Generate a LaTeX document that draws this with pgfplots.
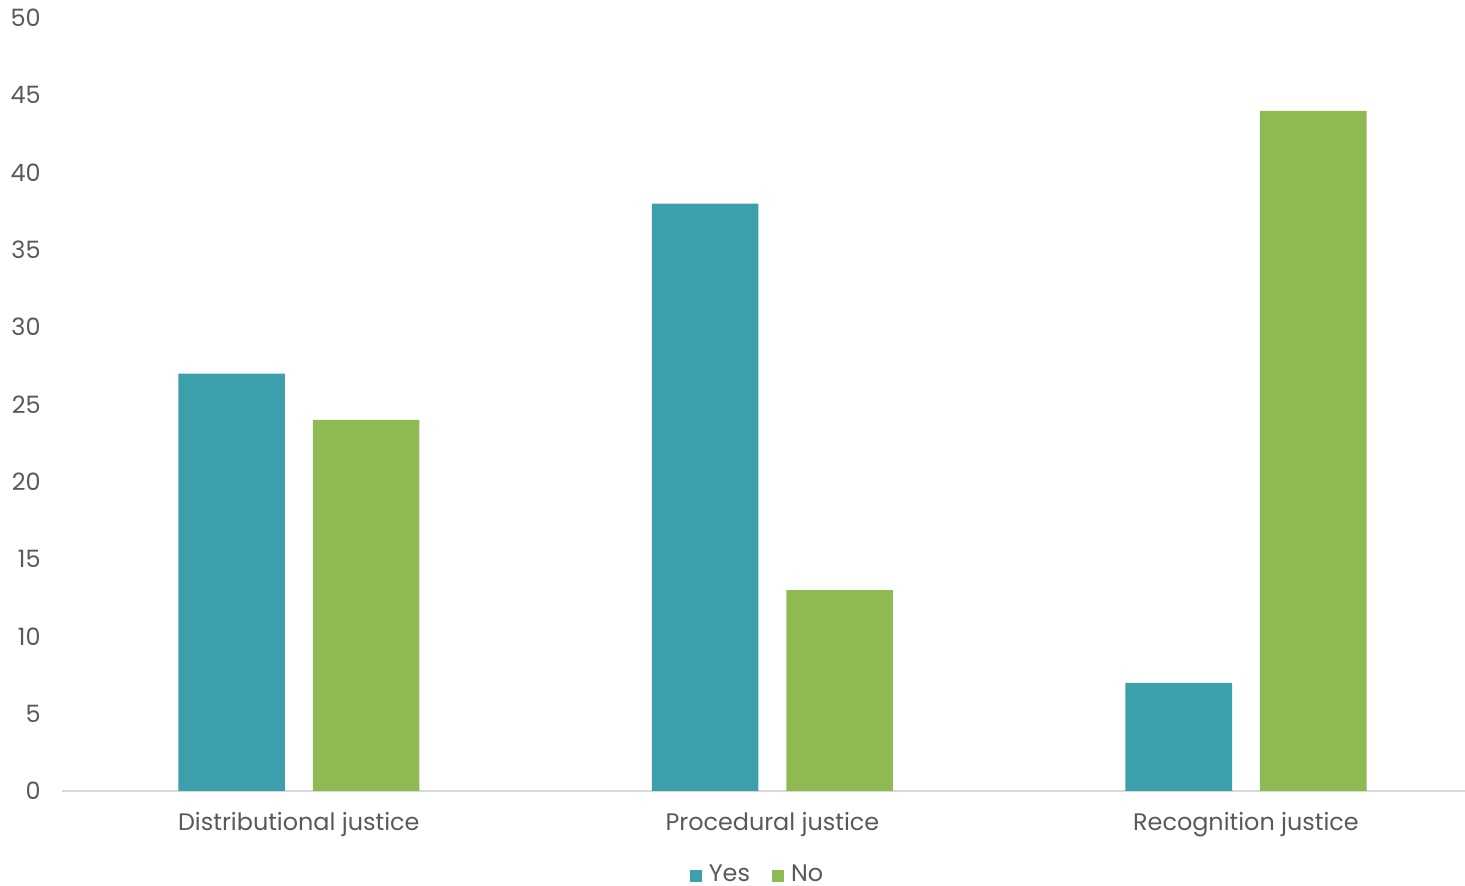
\documentclass[border=0pt]{standalone}
\usepackage{fontspec}
\setmainfont{Poppins}
\usepackage{pgfplots}
\pgfplotsset{compat=1.18}
\definecolor{yescol}{HTML}{3BA0AC}
\definecolor{nocol}{HTML}{8FBA53}
\definecolor{txt}{HTML}{595959}
\definecolor{base}{HTML}{D9D9D9}
\begin{document}
\begin{tikzpicture}
\path[use as bounding box] (-0.62cm,-0.95cm) rectangle (14.03cm,7.91cm);
\begin{axis}[
  at={(0,0)}, anchor=south west,
  scale only axis,
  width=14.03cm, height=7.73cm,
  xmin=-0.5, xmax=2.4625,
  ymin=0, ymax=50,
  ytick={0,5,...,50},
  xtick={0,1,2},
  xticklabels={Distributional justice, Procedural justice, Recognition justice},
  axis line style={draw=none},
  axis x line*=bottom,
  axis y line*=left,
  major tick length=0pt,
  tick label style={font=\fontsize{6.8pt}{8pt}\selectfont, text=txt},
  yticklabel style={anchor=east, xshift=-0.9mm},
  xticklabel style={anchor=north, yshift=-0.9mm},
  /pgf/number format/assume math mode=true,
  ybar,
  bar width=0.225,
  legend style={draw=none, at={(0.4975,-0.1095)}, anchor=center,
    inner sep=0pt,
    legend columns=-1, font=\fontsize{6.8pt}{8pt}\selectfont, text=txt,
    /tikz/every even column/.append style={column sep=1.5mm}},
  legend image code/.code={\fill[#1] (0cm,-0.6mm) rectangle (1.2mm,0.6mm);},
  clip=false,
]
\draw[base, line width=0.6pt] (axis cs:-0.5,0) -- (axis cs:2.4625,0);
\addplot[fill=yescol, draw=none, bar shift=-0.142] coordinates {(0,27) (1,38) (2,7)};
\addplot[fill=nocol, draw=none, bar shift=0.142] coordinates {(0,24) (1,13) (2,44)};
\legend{Yes, No}
\end{axis}
\end{tikzpicture}
\end{document}
